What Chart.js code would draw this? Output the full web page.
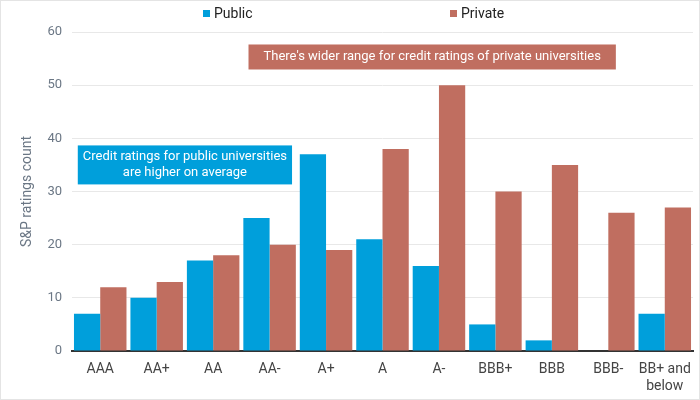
<!DOCTYPE html>
<html>
<head>
  <meta charset="utf-8" />
  <title>S&amp;P ratings count</title>
  <script src="https://cdn.jsdelivr.net/npm/chart.js"></script>
  <style>
    html, body { margin: 0; padding: 0; background: #fff; }
    #wrap { width: 698px; height: 398px; border: 1px solid #e4e4e4; }
    canvas { display: block; }
  </style>
</head>
<body>
  <div id="wrap"><canvas id="chart" width="698" height="398"></canvas></div>

  <script>
  const categories = ['AAA', 'AA+', 'AA', 'AA-', 'A+', 'A', 'A-', 'BBB+', 'BBB', 'BBB-', ['BB+ and', 'below']];
  const publicCounts = [7, 10, 17, 25, 37, 21, 16, 5, 2, 0, 7];
  const privateCounts = [12, 13, 18, 20, 19, 38, 50, 30, 35, 26, 27];
  const yTicks = [0, 10, 20, 30, 40, 50, 60];

  const BLUE = '#009fdb';
  const RED = '#c06e60';
  const FONT = 'Roboto, "Noto Sans", sans-serif';

  // callout boxes, anchored in data space (category index, value)
  const notes = [
    { x: 5.88, y: 55.3, color: RED, lines: ["There's wider range for credit ratings of private universities"], padX: 15, h: 25 },
    { x: 1.5, y: 35, color: BLUE, lines: ['Credit ratings for public universities', 'are higher on average'], padX: 5, h: 39 }
  ];

  const extras = {
    id: 'extras',
    afterDraw(chart) {
      const ctx = chart.ctx;
      const xs = chart.scales.x, ys = chart.scales.y;
      ctx.save();
      ctx.textBaseline = 'middle';

      // legend
      ctx.font = '14px ' + FONT;
      const items = chart.data.datasets.map(d => ({ label: d.label, color: d.backgroundColor }));
      const lx = [202, 449];
      items.forEach((it, i) => {
        ctx.fillStyle = it.color;
        ctx.fillRect(lx[i], 9, 7, 7);
        ctx.fillStyle = '#222';
        ctx.textAlign = 'left';
        ctx.fillText(it.label, lx[i] + 11, 13);
      });

      // notes
      ctx.font = '13px ' + FONT;
      notes.forEach(n => {
        const cx = xs.getPixelForValue(n.x);
        const cy = ys.getPixelForValue(n.y);
        const w = Math.max(...n.lines.map(l => ctx.measureText(l).width)) + n.padX * 2;
        ctx.fillStyle = n.color;
        ctx.fillRect(cx - w / 2, cy - n.h / 2, w, n.h);
        ctx.fillStyle = '#fff';
        ctx.textAlign = 'center';
        const lh = 16;
        n.lines.forEach((l, k) => {
          ctx.fillText(l, cx, cy + (k - (n.lines.length - 1) / 2) * lh);
        });
      });
      ctx.restore();
    }
  };

  new Chart(document.getElementById('chart').getContext('2d'), {
    type: 'bar',
    data: {
      labels: categories,
      datasets: [
        { label: 'Public', data: publicCounts, backgroundColor: BLUE },
        { label: 'Private', data: privateCounts, backgroundColor: RED }
      ]
    },
    options: {
      responsive: false,
      animation: false,
      layout: { padding: { top: 31, right: 6, left: 18 } },
      datasets: { bar: { categoryPercentage: 0.93, barPercentage: 1 } },
      plugins: { legend: { display: false }, tooltip: { enabled: false } },
      scales: {
        x: {
          grid: { display: false },
          border: { color: '#333', width: 2 },
          ticks: { color: '#444', font: { family: FONT, size: 14 }, padding: 2, maxRotation: 0, autoSkip: false },
          afterFit: s => { s.height = 48; }
        },
        y: {
          min: 0, max: 60,
          afterBuildTicks: s => { s.ticks = yTicks.map(v => ({ value: v })); },
          grid: { color: '#e8e8e8', drawTicks: false },
          border: { display: false },
          ticks: { color: '#6b7785', font: { family: FONT, size: 13 }, padding: 10 },
          title: { display: true, text: 'S&P ratings count', color: '#6b7785', font: { family: FONT, size: 14 }, padding: 0 },
          afterFit: s => { s.width = 53; }
        }
      }
    },
    plugins: [extras]
  });
  </script>
</body>
</html>
